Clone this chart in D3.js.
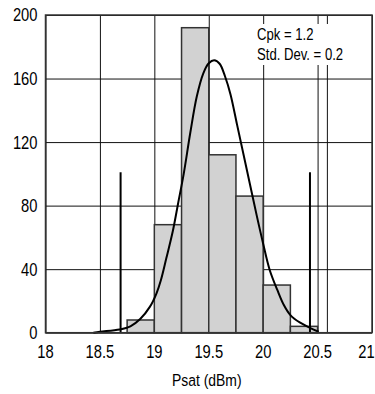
<!DOCTYPE html>
<html>
<head>
<meta charset="utf-8">
<script src="https://cdn.jsdelivr.net/npm/d3@7"></script>
<style>
  html, body { margin: 0; padding: 0; background: #fff; }
  svg text { font-family: "Liberation Sans", Arial, sans-serif; fill: #000; }
</style>
</head>
<body>
<div id="chart"></div>
<script>
// histogram bins (Psat, dBm) and counts
const binStarts = [18.75, 19.0, 19.25, 19.5, 19.75, 20.0, 20.25];
const binWidth = 0.25;
const counts = [8, 68, 192, 112, 86, 30, 4];

// fitted curve
const curveX = [18.44, 18.50, 18.68, 18.78, 18.87, 18.96, 19.02, 19.06, 19.11, 19.17, 19.22, 19.27,
                19.33, 19.39, 19.45, 19.50, 19.55, 19.60, 19.65, 19.70, 19.76, 19.82, 19.88, 19.94,
                20.00, 20.06, 20.13, 20.19, 20.25, 20.34, 20.43, 20.51];
const curveY = [0, 0.6, 2, 4, 8.6, 16.4, 24.8, 33, 46.8, 64, 82, 100,
                125.7, 148.7, 163.3, 169.6, 171.5, 169.3, 161.3, 150, 131, 112, 93, 74,
                56, 39.5, 26.9, 17.4, 11.1, 6.3, 3.1, 0.6];

// spec limit markers and the extra full-height line
const specX = [18.69, 20.43];
const specTop = 101;
const extraLineX = [20.59];

const xTicks = [18, 18.5, 19, 19.5, 20, 20.5, 21];
const yTicks = [0, 40, 80, 120, 160, 200];
const xTitle = "Psat (dBm)";
const notes = ["Cpk = 1.2", "Std. Dev. = 0.2"];

const W = 375, H = 394;
const m = { left: 45.5, right: 372, top: 15, bottom: 332.7 };
const narrow = 0.82; // condensed look (Arial Narrow in the original)

const svg = d3.select("#chart").append("svg")
  .attr("width", W).attr("height", H);

const x = d3.scaleLinear().domain([18, 21]).range([m.left, m.right]);
const y = d3.scaleLinear().domain([0, 200]).range([m.bottom, m.top]);

// grid lines
svg.append("g")
  .attr("transform", `translate(0,${m.bottom})`)
  .call(d3.axisBottom(x).tickValues(xTicks).tickSize(-(m.bottom - m.top)).tickFormat(""))
  .call(g => g.select(".domain").remove())
  .call(g => g.selectAll("line").attr("stroke", "#111").attr("stroke-width", 1));

svg.append("g")
  .attr("transform", `translate(${m.left},0)`)
  .call(d3.axisLeft(y).tickValues(yTicks).tickSize(-(m.right - m.left)).tickFormat(""))
  .call(g => g.select(".domain").remove())
  .call(g => g.selectAll("line").attr("stroke", "#111").attr("stroke-width", 1));

svg.selectAll(".extra").data(extraLineX).enter().append("line")
  .attr("class", "extra")
  .attr("x1", d => x(d)).attr("x2", d => x(d))
  .attr("y1", m.top).attr("y2", m.bottom)
  .attr("stroke", "#111").attr("stroke-width", 1);

// bars
svg.selectAll(".bar").data(binStarts).enter().append("rect")
  .attr("class", "bar")
  .attr("x", d => x(d))
  .attr("width", d => x(d + binWidth) - x(d))
  .attr("y", (d, i) => y(counts[i]))
  .attr("height", (d, i) => m.bottom - y(counts[i]))
  .attr("fill", "#d2d2d2")
  .attr("stroke", "#333")
  .attr("stroke-width", 1.5);

// spec limit lines
svg.selectAll(".spec").data(specX).enter().append("line")
  .attr("class", "spec")
  .attr("x1", d => x(d)).attr("x2", d => x(d))
  .attr("y1", y(specTop)).attr("y2", m.bottom)
  .attr("stroke", "#000").attr("stroke-width", 2);

// fitted curve
const line = d3.line()
  .x(d => x(d))
  .y((d, i) => y(curveY[i]))
  .curve(d3.curveCatmullRom);

svg.append("path")
  .datum(curveX)
  .attr("d", line)
  .attr("fill", "none")
  .attr("stroke", "#000")
  .attr("stroke-width", 2);

// plot frame
svg.append("rect")
  .attr("x", m.left).attr("y", m.top)
  .attr("width", m.right - m.left).attr("height", m.bottom - m.top)
  .attr("fill", "none").attr("stroke", "#333").attr("stroke-width", 1.5);

// squeezed text helper
const at = (px, py) => `translate(${px},${py}) scale(${narrow},1)`;

// tick labels
svg.append("g").selectAll("text").data(yTicks).enter().append("text")
  .attr("transform", d => at(m.left - 8, y(d)))
  .attr("dy", "0.36em")
  .attr("text-anchor", "end")
  .style("font-size", "18px")
  .text(d => d);

// last label is pulled in a little so it stays on the page
svg.append("g").selectAll("text").data(xTicks).enter().append("text")
  .attr("transform", d => at(Math.min(x(d), W - 8.5), 358))
  .attr("text-anchor", "middle")
  .style("font-size", "18px")
  .text(d => d);

svg.append("text")
  .attr("transform", at((m.left + m.right) / 2 - 2, 386))
  .attr("text-anchor", "middle")
  .style("font-size", "17px")
  .text(xTitle);

// annotation box
svg.append("rect")
  .attr("x", 253).attr("y", 24)
  .attr("width", 93).attr("height", 41)
  .attr("fill", "#fff");

svg.append("g").selectAll("text").data(notes).enter().append("text")
  .attr("transform", (d, i) => at(257, 39.5 + i * 20))
  .style("font-size", "16px")
  .text(d => d);
</script>
</body>
</html>
